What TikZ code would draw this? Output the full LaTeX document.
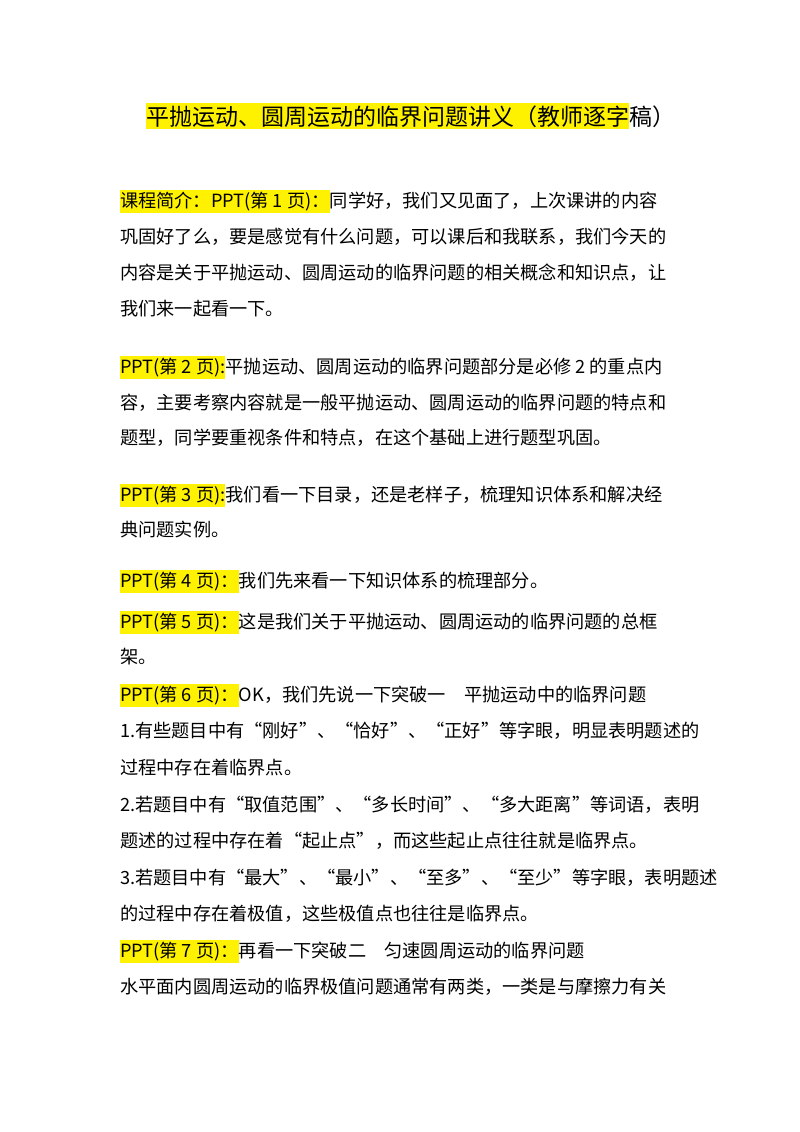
\documentclass[tikz,border=0pt]{standalone}
\usepackage{fontspec}
\setmainfont{Noto Sans CJK SC}
\begin{document}
\begin{tikzpicture}[x=1pt,y=-1pt,
  txt/.style={anchor=base west,inner sep=0pt,font=\fontsize{18.2}{20}\selectfont},
  hl/.style={txt,fill=yellow,inner ysep=2pt,outer sep=0pt}]
\useasboundingbox (0,0) rectangle (800,1132);
\node[hl,font=\fontsize{23}{26}\selectfont] (t1) at (146,125) {平抛运动、圆周运动的临界问题讲义（教师逐字};
\node[txt,font=\fontsize{23}{26}\selectfont] (t2) at (t1.base east) {稿）};
\node[hl] (a1) at (120,207) {课程简介：PPT(第 1 页)：};
\node[txt] (a2) at (a1.base east) {同学好，我们又见面了，上次课讲的内容};
\node[txt] (a3) at (120,243) {巩固好了么，要是感觉有什么问题，可以课后和我联系，我们今天的};
\node[txt] (a4) at (120,279) {内容是关于平抛运动、圆周运动的临界问题的相关概念和知识点，让};
\node[txt] (a5) at (120,315) {我们来一起看一下。};
\node[hl] (b1) at (120,373) {PPT(第 2 页):};
\node[txt] (b2) at (b1.base east) {平抛运动、圆周运动的临界问题部分是必修 2 的重点内};
\node[txt] (b3) at (120,409) {容，主要考察内容就是一般平抛运动、圆周运动的临界问题的特点和};
\node[txt] (b4) at (120,444) {题型，同学要重视条件和特点，在这个基础上进行题型巩固。};
\node[hl] (c1) at (120,501) {PPT(第 3 页):};
\node[txt] (c2) at (c1.base east) {我们看一下目录，还是老样子，梳理知识体系和解决经};
\node[txt] (c3) at (120,536) {典问题实例。};
\node[hl] (d1) at (120,587) {PPT(第 4 页)：};
\node[txt] (d2) at (d1.base east) {我们先来看一下知识体系的梳理部分。};
\node[hl] (e1) at (120,628) {PPT(第 5 页)：};
\node[txt] (e2) at (e1.base east) {这是我们关于平抛运动、圆周运动的临界问题的总框};
\node[txt] (e3) at (120,663) {架。};
\node[hl] (f1) at (120,701) {PPT(第 6 页)：};
\node[txt] (f2) at (f1.base east) {OK，我们先说一下突破一\quad 平抛运动中的临界问题};
\node[txt] (g1) at (120,737) {1.有些题目中有“刚好”、“恰好”、“正好”等字眼，明显表明题述的};
\node[txt] (g2) at (120,774) {过程中存在着临界点。};
\node[txt] (g3) at (120,811) {2.若题目中有“取值范围”、“多长时间”、“多大距离”等词语，表明};
\node[txt] (g4) at (120,847) {题述的过程中存在着“起止点”，而这些起止点往往就是临界点。};
\node[txt] (g5) at (120,884) {3.若题目中有“最大”、“最小”、“至多”、“至少”等字眼，表明题述};
\node[txt] (g6) at (120,920) {的过程中存在着极值，这些极值点也往往是临界点。};
\node[hl] (h1) at (120,957) {PPT(第 7 页)：};
\node[txt] (h2) at (h1.base east) {再看一下突破二\quad 匀速圆周运动的临界问题};
\node[txt] (h3) at (120,993) {水平面内圆周运动的临界极值问题通常有两类，一类是与摩擦力有关};
\end{tikzpicture}
\end{document}
